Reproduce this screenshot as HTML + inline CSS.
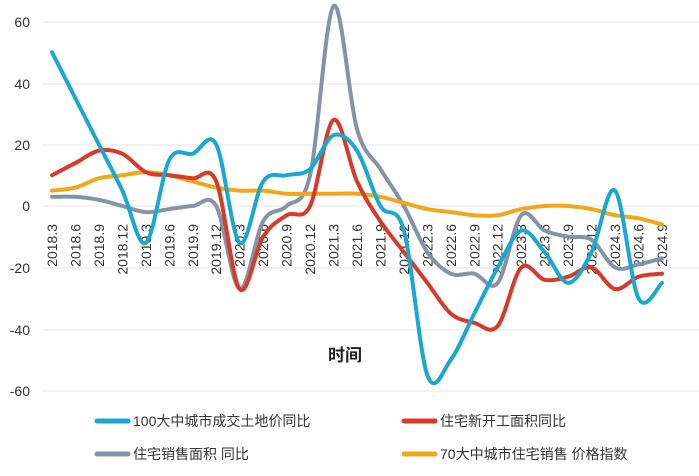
<!DOCTYPE html>
<html><head><meta charset="utf-8"><style>
body{margin:0;background:#fff;width:699px;height:471px;overflow:hidden}
text{font-family:"Liberation Sans","Noto Sans CJK SC",sans-serif}
</style></head><body>
<svg id="s" width="699" height="471" xmlns="http://www.w3.org/2000/svg">
<g stroke="#e6e6e6" stroke-width="1">
<line x1="42" x2="699" y1="22" y2="22"/><line x1="42" x2="699" y1="84" y2="84"/>
<line x1="42" x2="699" y1="145" y2="145"/><line x1="42" x2="699" y1="206" y2="206"/>
<line x1="42" x2="699" y1="268" y2="268"/><line x1="42" x2="699" y1="330" y2="330"/>
<line x1="42" x2="699" y1="391" y2="391"/>
</g>
<g font-size="14" fill="#333" text-anchor="end">
<text x="30" y="27">60</text><text x="30" y="89">40</text><text x="30" y="150">20</text>
<text x="30" y="211">0</text><text x="30" y="273">-20</text><text x="30" y="335">-40</text><text x="30" y="396">-60</text>
</g>
<g id="xl" font-size="14" fill="#333"></g>
<g id="ln" fill="none" stroke-width="4" stroke-linecap="round" stroke-linejoin="round"></g>
<text x="345" y="361" font-size="17" font-weight="bold" fill="#222" text-anchor="middle">时间</text>
<g stroke-width="5" stroke-linecap="round">
<line x1="97" x2="128" y1="421" y2="421" stroke="#1aa7d0"/>
<line x1="404" x2="435" y1="421" y2="421" stroke="#d83a2a"/>
<line x1="97" x2="128" y1="454" y2="454" stroke="#8494a6"/>
<line x1="404" x2="435" y1="454" y2="454" stroke="#f0a818"/>
</g>
<g font-size="14" fill="#333">
<text x="133" y="426">100大中城市成交土地价同比</text>
<text x="440" y="426">住宅新开工面积同比</text>
<text x="133" y="459">住宅销售面积 同比</text>
<text x="440" y="459">70大中城市住宅销售 价格指数</text>
</g>
</svg>
<script>
const x0=52,dx=23.46;const Y=v=>206-v*3.075;
const labels=[];for(let y=2018;y<=2024;y++)for(const m of[3,6,9,12]){if(y==2018&&m<3)continue;if(y==2024&&m>9)continue;labels.push(y+"."+m);}
const xl=document.getElementById('xl');
labels.forEach((l,i)=>{const x=x0+i*dx+5;const t=document.createElementNS("http://www.w3.org/2000/svg","text");t.setAttribute("transform",`translate(${x},224) rotate(-90)`);t.setAttribute("text-anchor","end");t.textContent=l;xl.appendChild(t);});
const S=[
["#8494a6",[3,3,2,0,-2,-1,0,0,-27,-5,0,10,65,25,12,0,-15,-22,-22,-25,-3,-8,-10,-11,-20,-19,-17]],
["#f0a818",[5,6,9,10,11,10,8,6,5,5,4,4,4,4,3,1,-1,-2,-3,-3,-1,0,0,-1,-3,-4,-6]],
["#d83a2a",[10,14,18,17,11,10,9,8,-27,-10,-3,0,28,8,-5,-15,-25,-35,-38,-39,-20,-24,-23,-20,-27,-23,-22]],
["#1aa7d0",[50,35,20,5,-12,15,17,20,-12,8,10,12,23,18,0,-8,-55,-50,-35,-20,-8,-15,-25,-15,5,-30,-25]]];
const ln=document.getElementById('ln');
S.forEach(([c,d])=>{const p=d.map((v,i)=>[x0+i*dx,Y(v)]);let s=`M${p[0]}`;
for(let i=0;i<p.length-1;i++){const a=p[i-1]||p[i],b=p[i],e=p[i+1],f=p[i+2]||e;
s+=` C${b[0]+(e[0]-a[0])/6},${b[1]+(e[1]-a[1])/6} ${e[0]-(f[0]-b[0])/6},${e[1]-(f[1]-b[1])/6} ${e[0]},${e[1]}`;}
const q=document.createElementNS("http://www.w3.org/2000/svg","path");q.setAttribute("d",s);q.setAttribute("stroke",c);ln.appendChild(q);});
</script>
</body></html>
